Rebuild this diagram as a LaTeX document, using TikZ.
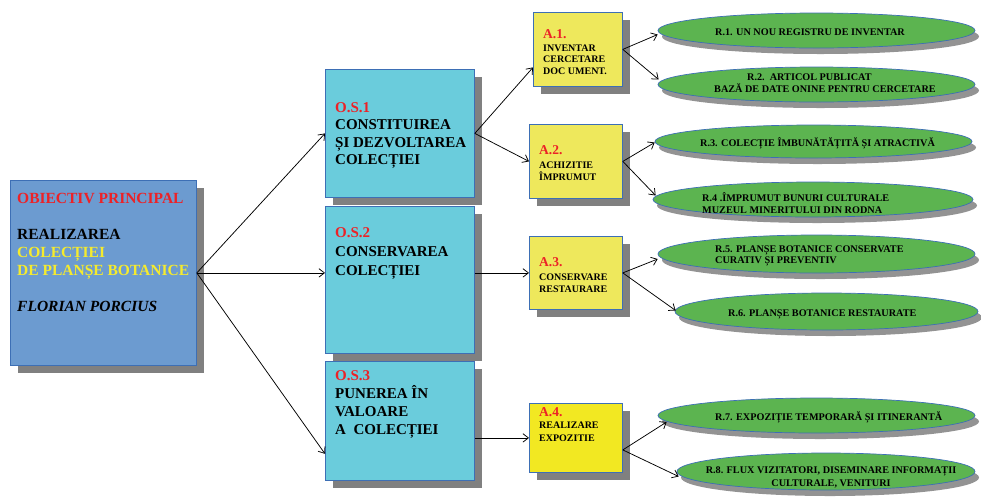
\documentclass[tikz,border=0pt]{standalone}
\usepackage{fontspec}
\setmainfont{Liberation Serif}
\usetikzlibrary{shapes.geometric,shadows,arrows.meta,calc}
\definecolor{mainblue}{HTML}{6C9BD0}
\definecolor{bordblue}{HTML}{3D6FB5}
\definecolor{oscyan}{HTML}{6ACCDC}
\definecolor{ayellow}{HTML}{EEE85C}
\definecolor{ayellowb}{HTML}{F2E822}
\definecolor{rgreen}{HTML}{5CB450}
\definecolor{shadowgray}{HTML}{808080}
\definecolor{titlered}{HTML}{EC2227}
\definecolor{textyellow}{HTML}{F5EB2D}
\newcommand\lnh[1]{\rule{0pt}{#1}}
\begin{document}
\begin{tikzpicture}[x=1pt,y=-1pt,
  box/.style={rectangle, draw=bordblue, line width=0.8pt, anchor=north west, inner sep=0pt,
    general shadow={fill=shadowgray, shadow xshift=8pt, shadow yshift=-8pt}},
  ell/.style={ellipse, draw=bordblue, line width=0.7pt, fill=rgreen, inner sep=0pt,
    general shadow={fill=shadowgray!85, shadow xshift=4pt, shadow yshift=-6pt}},
  txt/.style={anchor=north west, inner sep=0pt, align=left, text=black},
  bigtxt/.style={txt, font=\bfseries\fontsize{15}{18}\selectfont},
  atxt/.style={txt, font=\bfseries\fontsize{10}{12}\selectfont},
  rtxt/.style={txt, font=\bfseries\fontsize{10.2}{12}\selectfont},
  conn/.style={-{Straight Barb[length=5.5pt,width=8.5pt]}, line width=0.75pt, draw=black}]
\useasboundingbox (0,0) rectangle (981,499);

% boxes
\node[box, fill=mainblue, minimum width=186pt, minimum height=185pt] (main) at (10,180) {};
\node[box, fill=oscyan, minimum width=149pt, minimum height=128pt] (OS1) at (325,69) {};
\node[box, fill=oscyan, minimum width=149pt, minimum height=147pt] (OS2) at (325,206) {};
\node[box, fill=oscyan, minimum width=149pt, minimum height=119pt] (OS3) at (325,361) {};
\node[box, fill=ayellow, minimum width=89pt, minimum height=74pt] (A1) at (533,12) {};
\node[box, fill=ayellow, minimum width=93pt, minimum height=74pt] (A2) at (529,124) {};
\node[box, fill=ayellow, minimum width=93pt, minimum height=73pt] (A3) at (529,236) {};
\node[box, fill=ayellowb, minimum width=93pt, minimum height=69pt] (A4) at (529,403) {};

% ellipses
\node[ell, minimum width=317pt, minimum height=35pt] (R1) at (816.5,30.5) {};
\node[ell, minimum width=317pt, minimum height=35pt] (R2) at (816.5,84.5) {};
\node[ell, minimum width=317pt, minimum height=33pt] (R3) at (813.5,141.5) {};
\node[ell, minimum width=320pt, minimum height=35pt] (R4) at (813,199.5) {};
\node[ell, minimum width=317pt, minimum height=38pt] (R5) at (816.5,254) {};
\node[ell, minimum width=303pt, minimum height=37pt] (R6) at (826.5,311.5) {};
\node[ell, minimum width=317pt, minimum height=35pt] (R7) at (816.5,415.5) {};
\node[ell, minimum width=298pt, minimum height=37pt] (R8) at (826,471.5) {};

% box texts
\node[bigtxt, font=\bfseries\fontsize{15.5}{18}\selectfont] (maintext) at (17,192) {\lnh{11pt}\textcolor{titlered}{OBIECTIV PRINCIPAL}\\[18pt]
  REALIZAREA\\ \textcolor{textyellow}{COLECȚIEI}\\ \textcolor{textyellow}{DE PLANȘE BOTANICE}\\[18pt]
  \textit{FLORIAN PORCIUS}};
\node[bigtxt, font=\bfseries\fontsize{15}{17.5}\selectfont] (OS1text) at (335,101)
  {\lnh{11pt}\textcolor{titlered}{O.S.1}\\ CONSTITUIREA\\ ȘI DEZVOLTAREA\\ COLECȚIEI};
\node[bigtxt, font=\bfseries\fontsize{15}{19}\selectfont] (OS2text) at (335,226)
  {\lnh{11pt}\textcolor{titlered}{O.S.2}\\ CONSERVAREA\\ COLECȚIEI};
\node[bigtxt] (OS3text) at (335,369)
  {\lnh{11pt}\textcolor{titlered}{O.S.3}\\ PUNEREA ÎN\\ VALOARE\\ A\ \ COLECȚIEI};

\node[atxt, font=\bfseries\fontsize{10}{11.5}\selectfont] (A1text) at (543,28)
  {\lnh{10pt}{\fontsize{13.5}{14}\selectfont\textcolor{titlered}{A.1.}}\\[1.5pt] INVENTAR\\ CERCETARE\\ DOC UMENT.};
\node[atxt] (A2text) at (539,144)
  {\lnh{10pt}{\fontsize{13.5}{14}\selectfont\textcolor{titlered}{A.2.}}\\[2pt] ACHIZITIE\\ ÎMPRUMUT};
\node[atxt] (A3text) at (539,256)
  {\lnh{10pt}{\fontsize{13.5}{14}\selectfont\textcolor{titlered}{A.3.}}\\[2pt] CONSERVARE\\ RESTAURARE};
\node[atxt, font=\bfseries\fontsize{10}{12.5}\selectfont] (A4text) at (539,406)
  {\lnh{10pt}{\fontsize{13.5}{14}\selectfont\textcolor{titlered}{A.4.}}\\ REALIZARE\\ EXPOZITIE};

% ellipse texts
\node[rtxt] (R1text) at (715,25.5) {\lnh{9.5pt}R.1. UN NOU REGISTRU DE INVENTAR};
\node[rtxt] (R2text) at (714,70.5) {\lnh{9.5pt}\hspace*{33pt}R.2.\ \ ARTICOL PUBLICAT\\ BAZĂ DE DATE ONINE PENTRU CERCETARE};
\node[rtxt] (R3text) at (700,136.5) {\lnh{9.5pt}R.3. COLECȚIE ÎMBUNĂTĂȚITĂ ȘI ATRACTIVĂ};
\node[rtxt] (R4text) at (702,191.5) {\lnh{9.5pt}R.4 .ÎMPRUMUT BUNURI CULTURALE\\ MUZEUL MINERITULUI DIN RODNA};
\node[rtxt, font=\bfseries\fontsize{10.2}{11.5}\selectfont] (R5text) at (715,242.5) {\lnh{9.5pt}R.5. PLANȘE BOTANICE CONSERVATE\\ CURATIV ȘI PREVENTIV};
\node[rtxt] (R6text) at (728,306.5) {\lnh{9.5pt}R.6. PLANȘE BOTANICE RESTAURATE};
\node[rtxt] (R7text) at (715,410.5) {\lnh{9.5pt}R.7. EXPOZIȚIE TEMPORARĂ ȘI ITINERANTĂ};
\node[rtxt, anchor=north, align=center, font=\bfseries\fontsize{10.2}{13}\selectfont] (R8text) at (831,463.5)
  {\lnh{9.5pt}R.8. FLUX VIZITATORI, DISEMINARE INFORMAȚII\\ CULTURALE, VENITURI};

% connectors
\draw[conn] (main.east) -- (OS1.west);
\draw[conn] (main.east) -- (main.east -| OS2.west);
\draw[conn] (main.east) -- ($(OS3.south west)+(0,-27)$);
\draw[conn] (OS1.east) -- ($(A1.west)+(0,18)$);
\draw[conn] (OS1.east) -- (A2.west);
\draw[conn] (OS2.east |- A3.west) -- (A3.west);
\draw[conn] (OS3.east |- A4.west) -- (A4.west);
\draw[conn] (A1.east) -- ($(R1.west)+(0,4)$);
\draw[conn] (A1.east) -- ($(R2.west)+(1,-5)$);
\draw[conn] (A2.east) -- ($(R3.west)+(0,1)$);
\draw[conn] (A2.east) -- ($(R4.west)+(3,-4)$);
\draw[conn] (A3.east) -- ($(R5.west)+(0,5)$);
\draw[conn] (A3.east) -- ($(R6.west)+(1,-1)$);
\draw[conn] ($(A4.east)+(0,12)$) -- ($(R7.west)+(9,6.5)$);
\draw[conn] ($(A4.east)+(0,12)$) -- ($(R8.west)+(2,5)$);
\end{tikzpicture}
\end{document}
